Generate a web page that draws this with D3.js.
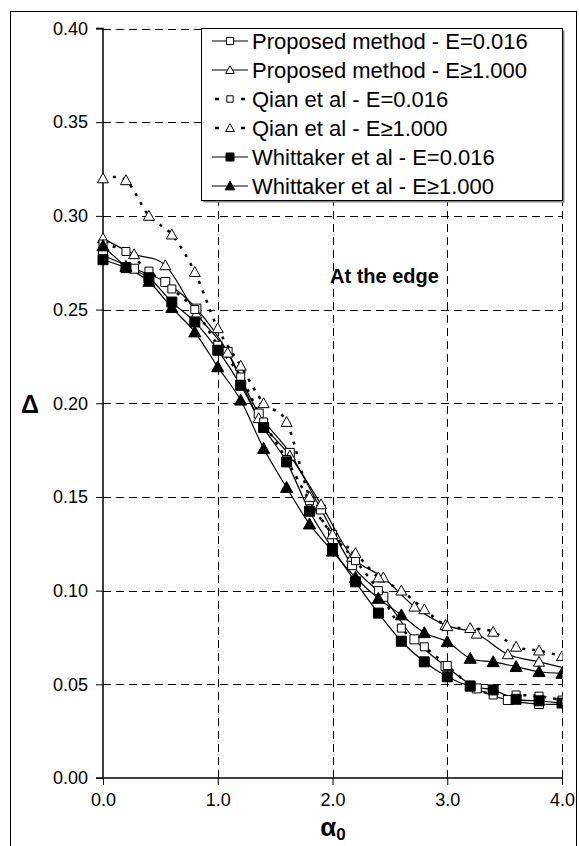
<!DOCTYPE html>
<html>
<head>
<meta charset="utf-8">
<script src="https://cdn.jsdelivr.net/npm/d3@7"></script>
<style>
  body { margin: 0; background: #fff; }
  svg { font-family: 'Liberation Sans', Arial, sans-serif; }
</style>
</head>
<body>
<svg class="chart" width="579" height="846"></svg>
<script>
// x positions used by the proposed method (irregular step) and by the others (0.2 step)
let alphaProposed = [0, 0.271, 0.543, 0.814, 1.086, 1.357, 1.628, 1.9, 2.171, 2.443, 2.714, 2.985, 3.257, 3.528, 3.8, 4.071];
let alphaRef = [0, 0.2, 0.4, 0.6, 0.8, 1.0, 1.2, 1.4, 1.6, 1.8, 2.0, 2.2, 2.4, 2.6, 2.8, 3.0, 3.2, 3.4, 3.6, 3.8, 4.0];

let proposedE016 = [0.279, 0.2718, 0.2647, 0.2505, 0.2274, 0.1945, 0.1735, 0.1433, 0.1136, 0.0967, 0.074, 0.0597, 0.0478, 0.0416, 0.0395, 0.0395];
let proposedE1 = [0.288, 0.2795, 0.2736, 0.2478, 0.227, 0.192, 0.172, 0.146, 0.118, 0.107, 0.0914, 0.0816, 0.077, 0.066, 0.062, 0.058];
let qianE016 = [0.285, 0.281, 0.2705, 0.261, 0.250, 0.231, 0.214, 0.190, 0.170, 0.148, 0.130, 0.116, 0.100, 0.080, 0.070, 0.060, 0.0496, 0.0443, 0.0443, 0.0437, 0.0416];
let qianE1 = [0.320, 0.319, 0.300, 0.290, 0.270, 0.240, 0.220, 0.200, 0.190, 0.150, 0.130, 0.120, 0.107, 0.100, 0.090, 0.081, 0.080, 0.078, 0.070, 0.068, 0.065];
let whittE016 = [0.2766, 0.2724, 0.267, 0.254, 0.2434, 0.2283, 0.2096, 0.187, 0.1687, 0.1424, 0.1225, 0.1047, 0.088, 0.073, 0.062, 0.054, 0.049, 0.047, 0.042, 0.0412, 0.040];
let whittE1 = [0.284, 0.273, 0.265, 0.251, 0.238, 0.2194, 0.2016, 0.1758, 0.155, 0.1355, 0.121, 0.107, 0.0958, 0.087, 0.0775, 0.0727, 0.0638, 0.062, 0.0594, 0.0567, 0.0558];

let seriesNames = ['Proposed method - E=0.016', 'Proposed method - E\u22651.000', 'Qian et al - E=0.016', 'Qian et al - E\u22651.000', 'Whittaker et al - E=0.016', 'Whittaker et al - E\u22651.000'];

let xTicks = [0, 1, 2, 3, 4];
let yTicks = [0, 0.05, 0.10, 0.15, 0.20, 0.25, 0.30, 0.35, 0.40];

let series = [
  {name: seriesNames[0], xs: alphaProposed, ys: proposedE016, marker: 'square', fill: '#fff', dashed: false, size: 9},
  {name: seriesNames[1], xs: alphaProposed, ys: proposedE1, marker: 'triangle', fill: '#fff', dashed: false, size: 10},
  {name: seriesNames[2], xs: alphaRef, ys: qianE016, marker: 'square', fill: '#fff', dashed: true, size: 8},
  {name: seriesNames[3], xs: alphaRef, ys: qianE1, marker: 'triangle', fill: '#fff', dashed: true, size: 10},
  {name: seriesNames[4], xs: alphaRef, ys: whittE016, marker: 'square', fill: '#000', dashed: false, size: 10},
  {name: seriesNames[5], xs: alphaRef, ys: whittE1, marker: 'triangle', fill: '#000', dashed: false, size: 11}
];

let svg = d3.select('svg.chart');

let x = d3.scaleLinear().domain([0, 4]).range([103, 562]);
let y = d3.scaleLinear().domain([0, 0.40]).range([778, 28.5]);

// outer frame
svg.append('rect')
  .attr('x', 10.5).attr('y', 11.5)
  .attr('width', 566).attr('height', 850)
  .attr('fill', 'none').attr('stroke', '#000').attr('stroke-width', 1);

// grid
let grid = svg.append('g').attr('class', 'grid');
grid.selectAll('line.h')
  .data(yTicks.filter(d => d > 0))
  .enter().append('line')
  .attr('class', 'h')
  .attr('x1', x(0)).attr('x2', x(4))
  .attr('y1', d => Math.round(y(d)) + 0.5).attr('y2', d => Math.round(y(d)) + 0.5);
grid.selectAll('line.v')
  .data(xTicks.filter(d => d > 0))
  .enter().append('line')
  .attr('class', 'v')
  .attr('y1', y(0)).attr('y2', y(0.40))
  .attr('x1', d => Math.round(x(d)) + 0.5).attr('x2', d => Math.round(x(d)) + 0.5);
grid.selectAll('line')
  .attr('stroke', '#000')
  .attr('stroke-width', 1)
  .attr('stroke-dasharray', '8,5');

// axes
let yAxis = d3.axisLeft(y).tickValues(yTicks).tickFormat(d3.format('.2f')).tickSize(7).tickPadding(8);
let xAxis = d3.axisBottom(x).tickValues(xTicks).tickFormat(d3.format('.1f')).tickSize(7).tickPadding(8);

svg.append('g')
  .attr('transform', `translate(${x(0)},0)`)
  .call(yAxis)
  .call(g => g.select('.domain').attr('d', `M-7,${y(0.40)}H0V${y(0)}H-7`).attr('stroke-width', 1.5));
svg.append('g')
  .attr('transform', `translate(0,${y(0)})`)
  .call(xAxis)
  .call(g => g.select('.domain').attr('d', `M${x(0)},0H${x(4)}`).attr('stroke-width', 1.5));

svg.selectAll('.tick text')
  .style('font-size', '18px')
  .style('font-family', "'Liberation Sans', Arial, sans-serif")
  .attr('fill', '#000');

// clip to the plot area
svg.append('clipPath').attr('id', 'plotClip')
  .append('rect')
  .attr('x', x(0) - 8).attr('y', y(0.40) - 8)
  .attr('width', x(4) - x(0) + 8.5).attr('height', y(0) - y(0.40) + 16);

let line = d3.line()
  .x(d => x(d[0]))
  .y(d => y(d[1]))
  .curve(d3.curveCardinal.tension(0));

function markerPath(type, size){
  if (type === 'square'){
    let h = size / 2;
    return `M${-h},${-h}H${h}V${h}H${-h}Z`;
  }
  let h = size * 0.55;
  return `M0,${-h}L${h},${h * 0.8}H${-h}Z`;
}

let plot = svg.append('g').attr('clip-path', 'url(#plotClip)');

series.forEach(s => {
  let pts = s.xs.map((v, i) => [v, s.ys[i]]);
  plot.append('path')
    .datum(pts)
    .attr('d', line)
    .attr('fill', 'none')
    .attr('stroke', '#000')
    .attr('stroke-width', s.dashed ? 2.5 : 1.2)
    .attr('stroke-dasharray', s.dashed ? '3,7' : null);
});

series.forEach(s => {
  let pts = s.xs.map((v, i) => [v, s.ys[i]]);
  plot.append('g')
    .selectAll('path')
    .data(pts)
    .enter().append('path')
    .attr('transform', d => `translate(${x(d[0])},${y(d[1])})`)
    .attr('d', markerPath(s.marker, s.size))
    .attr('fill', s.fill)
    .attr('stroke', '#000')
    .attr('stroke-width', 1);
});

// legend
let legend = svg.append('g').attr('class', 'legendContainer');
legend.append('rect')
  .attr('x', 203.5).attr('y', 30.5)
  .attr('width', 361).attr('height', 172)
  .attr('fill', '#888');
legend.append('rect')
  .attr('x', 201.5).attr('y', 28.5)
  .attr('width', 361).attr('height', 172)
  .attr('fill', '#fff').attr('stroke', '#000').attr('stroke-width', 1);

let legendRows = legend.selectAll('g.row')
  .data(series)
  .enter().append('g')
  .attr('class', 'row')
  .attr('transform', (d, i) => `translate(0, ${41 + i * 29})`);

legendRows.append('line')
  .attr('x1', d => d.dashed ? 215 : 212).attr('x2', 248)
  .attr('y1', 0).attr('y2', 0)
  .attr('stroke', '#000')
  .attr('stroke-width', d => d.dashed ? 2.5 : 1.2)
  .attr('stroke-dasharray', d => d.dashed ? '4,9' : null);
legendRows.append('path')
  .attr('transform', 'translate(230,0)')
  .attr('d', d => markerPath(d.marker, d.size * 0.8))
  .attr('fill', d => d.fill)
  .attr('stroke', '#000');
legendRows.append('text')
  .attr('x', 252).attr('y', 0)
  .attr('dy', '0.35em')
  .style('font-size', '22px')
  .text(d => d.name);

// annotations and axis titles
svg.append('text')
  .attr('x', 330).attr('y', 283)
  .style('font-size', '20px').style('font-weight', 'bold')
  .text('At the edge');

svg.append('text')
  .attr('x', 30).attr('y', 404)
  .attr('text-anchor', 'middle').attr('dy', '0.35em')
  .style('font-size', '25px').style('font-weight', 'bold')
  .text('\u0394');

let xTitle = svg.append('text')
  .attr('x', 333).attr('y', 836)
  .attr('text-anchor', 'middle')
  .style('font-size', '26px').style('font-weight', 'bold');
xTitle.append('tspan').text('\u03b1');
xTitle.append('tspan').attr('dy', 4).style('font-size', '17px').text('0');
</script>
</body>
</html>
